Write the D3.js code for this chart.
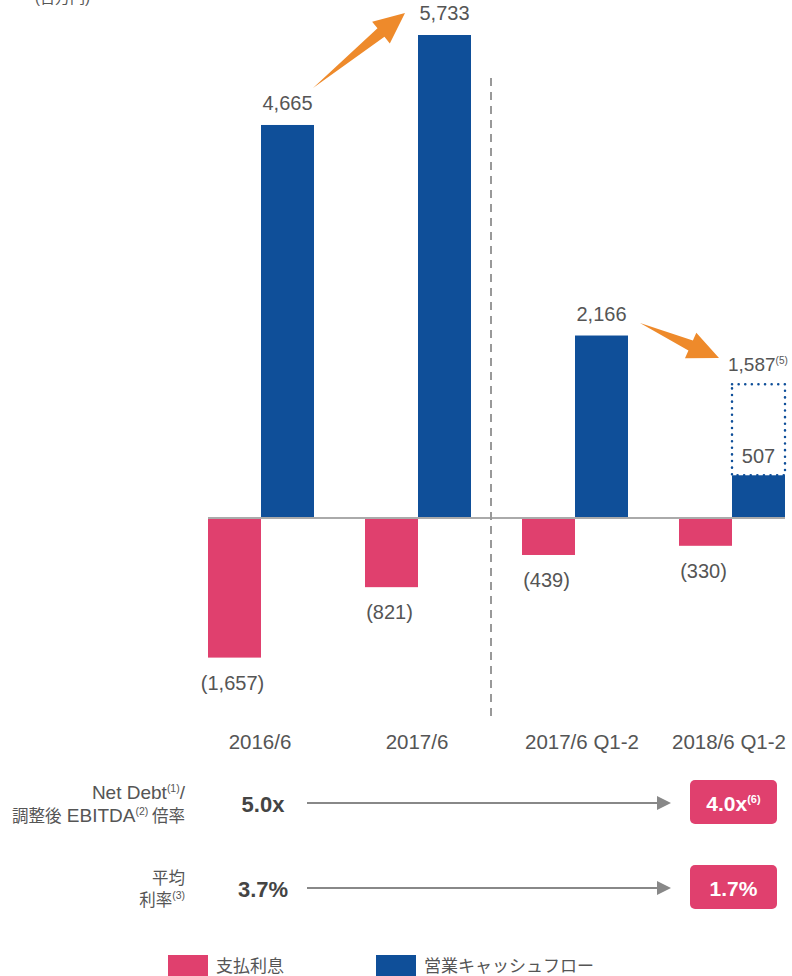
<!DOCTYPE html>
<html>
<head>
<meta charset="utf-8">
<script src="https://cdn.jsdelivr.net/npm/d3@7"></script>
<style>
  body { margin: 0; background: #fff; }
  svg { display: block; font-family: "Liberation Sans", Arial, "Noto Sans CJK JP", sans-serif; }
</style>
</head>
<body>
<div id="chart"></div>
<script>
// data (百万円)
const categories = ["2016/6", "2017/6", "2017/6 Q1-2", "2018/6 Q1-2"];
const interest = [-1657, -821, -439, -330];        // 支払利息
const opCashFlow = [4665, 5733, 2166, 507];        // 営業キャッシュフロー
const proForma = 1587;                              // 2018/6 Q1-2 dotted box value
const seriesNames = ["支払利息", "営業キャッシュフロー"];
const metricFrom = ["5.0x", "3.7%"];
const metricTo = [["4.0x", "(6)"], ["1.7%", ""]];

const pink = "#e0406e", blue = "#0f4f99", orange = "#ee8a2b", grayText = "#555";
const cjk = "Noto Sans CJK JP";

const W = 792, H = 976;
const svg = d3.select("#chart").append("svg").attr("width", W).attr("height", H);

const fmt = d3.format(",");
const neg = v => "(" + fmt(Math.abs(v)) + ")";

// scales
const x = d3.scaleBand().domain(categories).range([182.5, 810.5]);
const xs = d3.scaleBand().domain(seriesNames).range([25.5, 131.5]);
const y = d3.scaleLinear().domain([0, 5733]).range([518, 35]);

// unit label (cut at top, like the reference)
svg.append("text").attr("x", 35).attr("y", 3).attr("font-size", 15)
  .attr("fill", grayText).text("(百万円)");

// bars
const rows = categories.map((c, i) => ({ c, i, neg: interest[i], pos: opCashFlow[i] }));

svg.selectAll(".negbar").data(rows).enter().append("rect")
  .attr("x", d => x(d.c) + xs(seriesNames[0]))
  .attr("y", y(0))
  .attr("width", xs.bandwidth())
  .attr("height", d => y(d.neg) - y(0))
  .attr("fill", pink);

svg.selectAll(".posbar").data(rows).enter().append("rect")
  .attr("x", d => x(d.c) + xs(seriesNames[1]))
  .attr("y", d => y(d.pos))
  .attr("width", xs.bandwidth())
  .attr("height", d => y(0) - y(d.pos))
  .attr("fill", blue);

// baseline
svg.append("line")
  .attr("x1", x(categories[0]) + xs(seriesNames[0]))
  .attr("x2", x(categories[3]) + xs(seriesNames[1]) + xs.bandwidth())
  .attr("y1", y(0)).attr("y2", y(0))
  .attr("stroke", "#aaa").attr("stroke-width", 2);

// dotted pro forma box
const lastX = x(categories[3]) + xs(seriesNames[1]);
svg.append("rect")
  .attr("x", lastX).attr("y", y(proForma))
  .attr("width", xs.bandwidth()).attr("height", y(opCashFlow[3]) - y(proForma))
  .attr("fill", "none").attr("stroke", blue).attr("stroke-width", 2.5)
  .attr("stroke-dasharray", "0.1 6.5").attr("stroke-linecap", "round");

// value labels
svg.selectAll(".poslab").data(rows).enter().append("text")
  .attr("x", d => x(d.c) + xs(seriesNames[1]) + xs.bandwidth() / 2)
  .attr("y", d => d.i === 3 ? y(d.pos) - 12 : y(d.pos) - 15)
  .attr("text-anchor", "middle").attr("font-size", 20).attr("fill", grayText)
  .text(d => fmt(d.pos));

svg.selectAll(".neglab").data(rows).enter().append("text")
  .attr("x", d => x(d.c) + xs(seriesNames[0]) + xs.bandwidth() / 2 - 2)
  .attr("y", d => y(d.neg) + 32)
  .attr("text-anchor", "middle").attr("font-size", 20).attr("fill", grayText)
  .text(d => neg(d.neg));

const pf = svg.append("text")
  .attr("x", 728).attr("y", y(proForma) - 13)
  .attr("font-size", 19).attr("fill", grayText);
pf.append("tspan").text(fmt(proForma));
pf.append("tspan").attr("font-size", 10).attr("dy", -7).text("(5)");

// category labels
svg.selectAll(".cat").data(categories).enter().append("text")
  .attr("x", (d, i) => x(d) + x.bandwidth() / 2 + (i === 2 ? 7 : i === 3 ? -3 : -1))
  .attr("y", 749)
  .attr("text-anchor", "middle").attr("font-size", 20.5).attr("fill", grayText)
  .text(d => d);

// dashed divider
svg.append("line")
  .attr("x1", 491).attr("x2", 491).attr("y1", 78).attr("y2", 716)
  .attr("stroke", "#999").attr("stroke-width", 2).attr("stroke-dasharray", "8 6");

// orange growth arrows
function wedgeArrow(x1, y1, x2, y2) {
  const a = Math.atan2(y2 - y1, x2 - x1), L = Math.hypot(x2 - x1, y2 - y1);
  const hl = 31, hw = 14, sw = 5.5;
  const pts = [[0, 0], [L - hl, -sw], [L - hl, -hw], [L, 0], [L - hl, hw], [L - hl, sw]];
  const p = pts.map(([u, v]) => [x1 + u * Math.cos(a) - v * Math.sin(a), y1 + u * Math.sin(a) + v * Math.cos(a)]);
  svg.append("path").attr("d", "M" + p.map(q => q.join(",")).join("L") + "Z").attr("fill", orange);
}
wedgeArrow(313, 88, 405, 13);
wedgeArrow(640, 323, 719, 358);

// metric labels (Latin a bit larger than kanji, as in the reference)
function label(yy, parts) {
  const t = svg.append("text").attr("x", 185).attr("y", yy).attr("text-anchor", "end")
    .attr("fill", grayText);
  parts.forEach(([s, kind]) => {
    const sp = t.append("tspan").text(s);
    if (kind === "sup") sp.attr("font-size", 10.5).attr("dy", -7);
    else if (kind === "after") sp.attr("font-size", 19).attr("dy", 7);
    else if (kind === "cjk") sp.attr("font-size", 16.5).attr("font-family", cjk);
    else if (kind === "cjkafter") sp.attr("font-size", 16.5).attr("font-family", cjk).attr("dy", 7);
    else sp.attr("font-size", 19);
  });
}
label(799, [["Net Debt"], ["(1)", "sup"], ["/", "after"]]);
label(822, [["調整後", "cjk"], [" EBITDA"], ["(2)", "sup"], [" 倍率", "cjkafter"]]);
label(884, [["平均", "cjk"]]);
label(906, [["利率", "cjk"], ["(3)", "sup"]]);

const rowY = [803, 888];
rowY.forEach((ry, i) => {
  svg.append("text").attr("x", 263).attr("y", ry + 9).attr("text-anchor", "middle")
    .attr("font-size", 22).attr("font-weight", "bold").attr("fill", "#444")
    .text(metricFrom[i]);
  svg.append("line").attr("x1", 307).attr("x2", 658).attr("y1", ry).attr("y2", ry)
    .attr("stroke", "#888").attr("stroke-width", 2);
  svg.append("path")
    .attr("d", `M657,${ry - 7}L671,${ry}L657,${ry + 7}Z`).attr("fill", "#888");
  svg.append("rect").attr("x", 690).attr("y", ry - 23).attr("width", 87).attr("height", 44)
    .attr("rx", 5).attr("fill", pink);
  const t = svg.append("text").attr("x", 733.5).attr("y", ry + 8).attr("text-anchor", "middle")
    .attr("font-size", 21).attr("font-weight", "bold").attr("fill", "#fff");
  t.append("tspan").text(metricTo[i][0]);
  if (metricTo[i][1]) t.append("tspan").attr("font-size", 11).attr("dy", -8).text(metricTo[i][1]);
});

// legend
const legX = [168, 376];
seriesNames.forEach((s, i) => {
  svg.append("rect").attr("x", legX[i]).attr("y", 955).attr("width", 40).attr("height", 21)
    .attr("fill", i === 0 ? pink : blue);
  svg.append("text").attr("x", legX[i] + 48).attr("y", 972).attr("font-size", 17)
    .attr("fill", grayText).attr("font-family", cjk).text(s);
});
</script>
</body>
</html>
